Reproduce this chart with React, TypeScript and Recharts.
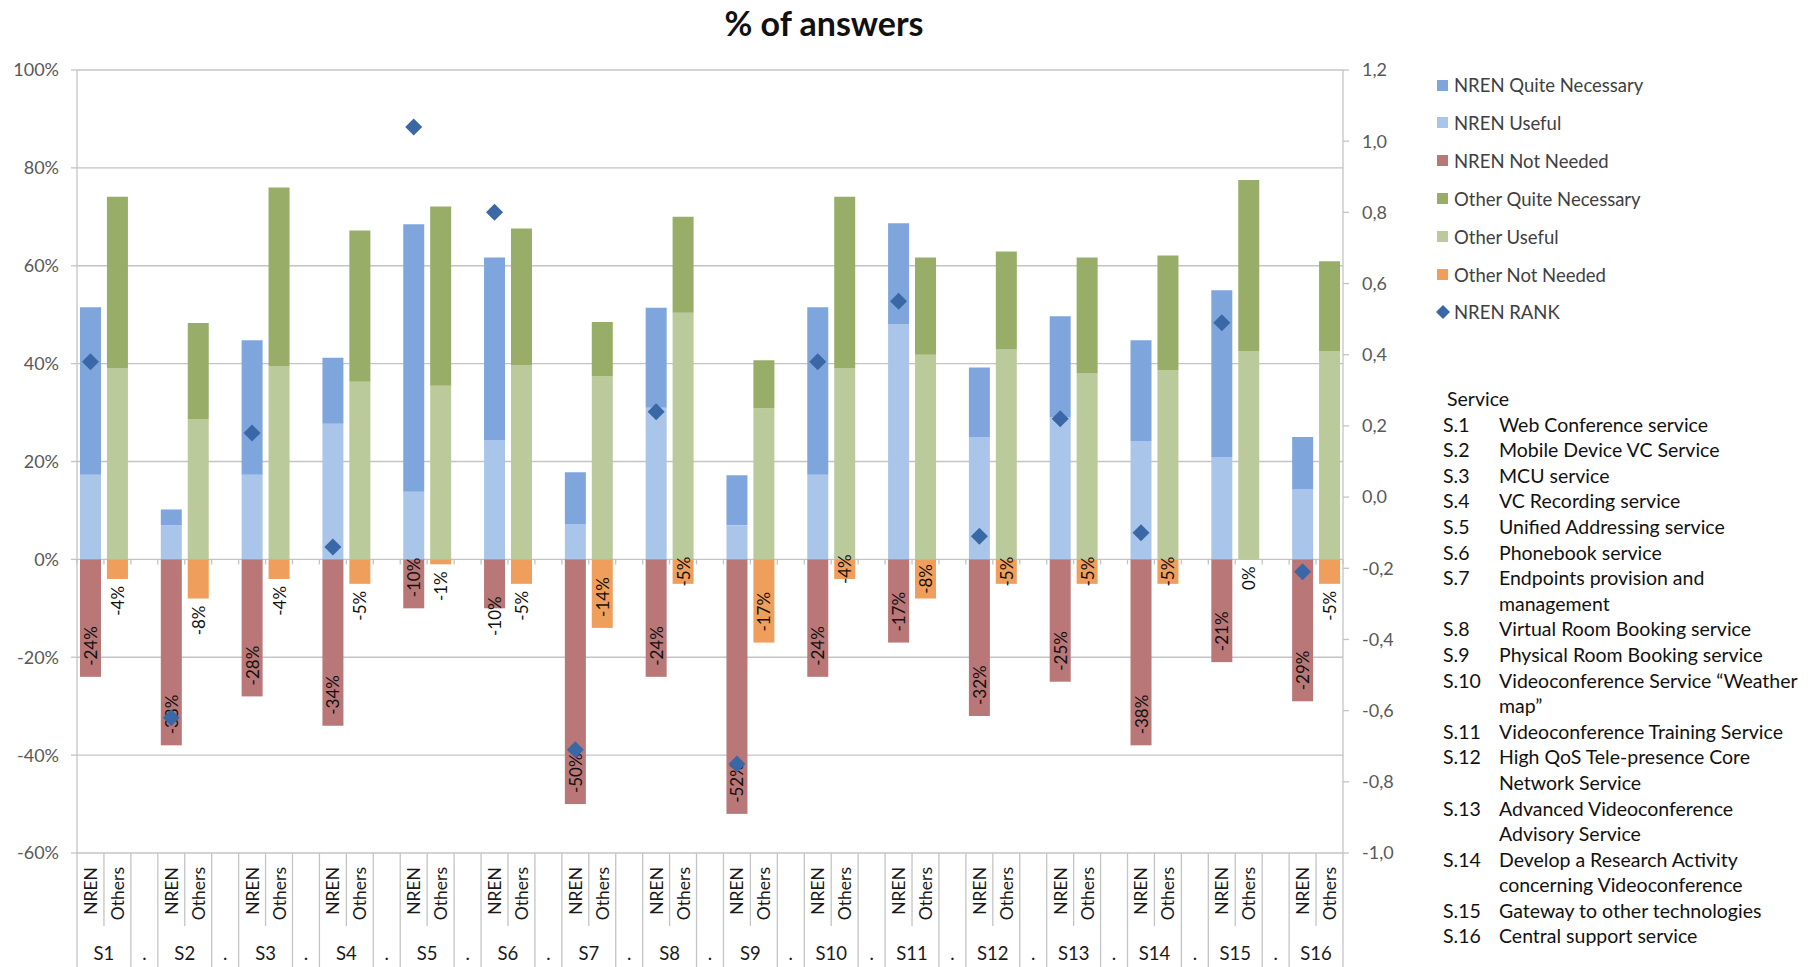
import { ComposedChart, Bar, Line, XAxis, YAxis, CartesianGrid } from 'recharts';

const services = ['S1', 'S2', 'S3', 'S4', 'S5', 'S6', 'S7', 'S8', 'S9', 'S10', 'S11', 'S12', 'S13', 'S14', 'S15', 'S16'];

// % of answers
const nrenUseful = [17.3, 7.0, 17.3, 27.7, 13.8, 24.3, 7.2, 31.0, 7.0, 17.3, 48.1, 25.0, 29.0, 24.2, 20.9, 14.3];
const nrenQuiteNecessary = [34.2, 3.2, 27.5, 13.5, 54.7, 37.4, 10.6, 20.4, 10.2, 34.2, 20.6, 14.2, 20.7, 20.6, 34.1, 10.7];
const nrenNotNeeded = [-24, -38, -28, -34, -10, -10, -50, -24, -52, -24, -17, -32, -25, -38, -21, -29];
const otherUseful = [39.1, 28.7, 39.5, 36.3, 35.5, 39.7, 37.4, 50.4, 30.9, 39.1, 41.8, 42.9, 38.0, 38.7, 42.6, 42.6];
const otherQuiteNecessary = [35.0, 19.6, 36.5, 30.9, 36.6, 27.9, 11.1, 19.6, 9.8, 35.0, 19.9, 20.0, 23.7, 23.4, 34.9, 18.3];
const otherNotNeeded = [-4, -8, -4, -5, -1, -5, -14, -5, -17, -4, -8, -5, -5, -5, 0, -5];
const nrenRank = [0.38, -0.62, 0.18, -0.14, 1.04, 0.8, -0.71, 0.24, -0.75, 0.38, 0.55, -0.11, 0.22, -0.1, 0.49, -0.21];

const leftTicks = [-60, -40, -20, 0, 20, 40, 60, 80, 100];
const rightTicks = [-1, -0.8, -0.6, -0.4, -0.2, 0, 0.2, 0.4, 0.6, 0.8, 1, 1.2];

const serviceLines: [string, string][] = [
  ['S.1', 'Web Conference service'],
  ['S.2', 'Mobile Device VC Service'],
  ['S.3', 'MCU service'],
  ['S.4', 'VC Recording service'],
  ['S.5', 'Unified Addressing service'],
  ['S.6', 'Phonebook service'],
  ['S.7', 'Endpoints provision and'],
  ['', 'management'],
  ['S.8', 'Virtual Room Booking service'],
  ['S.9', 'Physical Room Booking service'],
  ['S.10', 'Videoconference Service \u201cWeather'],
  ['', 'map\u201d'],
  ['S.11', 'Videoconference Training Service'],
  ['S.12', 'High QoS Tele-presence Core'],
  ['', 'Network Service'],
  ['S.13', 'Advanced Videoconference'],
  ['', 'Advisory Service'],
  ['S.14', 'Develop a Research Activity'],
  ['', 'concerning Videoconference'],
  ['S.15', 'Gateway to other technologies'],
  ['S.16', 'Central support service'],
];

const COLORS = {
  nrenQN: '#7EA6DD',
  nrenU: '#A9C6EA',
  nrenNN: '#BA7777',
  otherQN: '#98AD67',
  otherU: '#BBCA9B',
  otherNN: '#EF9F5B',
  rank: '#3A68A6',
};

const legendItems = [
  { label: 'NREN Quite Necessary', color: COLORS.nrenQN },
  { label: 'NREN Useful', color: COLORS.nrenU },
  { label: 'NREN Not Needed', color: COLORS.nrenNN },
  { label: 'Other Quite Necessary', color: COLORS.otherQN },
  { label: 'Other Useful', color: COLORS.otherU },
  { label: 'Other Not Needed', color: COLORS.otherNN },
  { label: 'NREN RANK', color: COLORS.rank, diamond: true },
];

// labels Excel had moved out below the bar (or forced to the end)
const labelPlacement: Record<string, string> = {
  'S1-Others': 'outside',
  'S2-Others': 'outside',
  'S3-Others': 'outside',
  'S4-Others': 'outside',
  'S5-Others': 'outside',
  'S6-NREN': 'straddle',
  'S6-Others': 'outside',
  'S15-Others': 'outside',
  'S16-Others': 'outside',
  'S5-NREN': 'insideEnd',
};

type Row = {
  key: string;
  sub: string;
  group: string;
  kind: 'nren' | 'other' | 'gap';
  nrenU?: number;
  nrenQN?: number;
  nrenNN?: number;
  otherU?: number;
  otherQN?: number;
  otherNN?: number;
  rank?: number;
};

const rows: Row[] = services.flatMap((s, i) => {
  const out: Row[] = [
    { key: `${s}-NREN`, sub: 'NREN', group: s, kind: 'nren', nrenU: nrenUseful[i], nrenQN: nrenQuiteNecessary[i], nrenNN: nrenNotNeeded[i], rank: nrenRank[i] },
    { key: `${s}-Others`, sub: 'Others', group: s, kind: 'other', otherU: otherUseful[i], otherQN: otherQuiteNecessary[i], otherNN: otherNotNeeded[i] },
  ];
  if (i < services.length - 1) out.push({ key: `gap${i}`, sub: '', group: '.', kind: 'gap' });
  return out;
});
const rowByKey = new Map(rows.map((r) => [r.key, r]));

const FONT = 'Lato, "Open Sans", sans-serif';
const GRID = '#C4C4C4';
const CHART_W = 1420;
const CHART_H = 967;
const TOP = 70;
const AXIS_W = 77;
const X_AXIS_H = 114;
const PLOT_BOTTOM = CHART_H - X_AXIS_H;
const PLOT_H = PLOT_BOTTOM - TOP;
const SLOT = (CHART_W - 2 * AXIS_W) / rows.length;
const ZERO_Y = TOP + (100 / 160) * PLOT_H;
const LABEL_FONT = 17;

const CategoryTick = (props: any) => {
  const { x, payload } = props;
  const row = rowByKey.get(payload.value);
  if (!row) return null;
  const idx = rows.indexOf(row);
  const left = x - SLOT / 2;
  const right = x + SLOT / 2;
  const isLast = idx === rows.length - 1;
  const subTop = PLOT_BOTTOM + 14;
  return (
    <g>
      <line x1={left} x2={left} y1={ZERO_Y} y2={ZERO_Y + 5} stroke={GRID} strokeWidth={1.3} />
      {isLast && <line x1={right} x2={right} y1={ZERO_Y} y2={ZERO_Y + 5} stroke={GRID} strokeWidth={1.3} />}
      <line x1={left} x2={left} y1={PLOT_BOTTOM} y2={row.kind === 'other' ? PLOT_BOTTOM + 73 : CHART_H} stroke={GRID} strokeWidth={1.3} />
      {isLast && <line x1={right} x2={right} y1={PLOT_BOTTOM} y2={CHART_H} stroke={GRID} strokeWidth={1.3} />}
      {row.sub && (
        <text
          x={x}
          y={subTop}
          transform={`rotate(-90 ${x} ${subTop})`}
          textAnchor="end"
          dominantBaseline="central"
          fontSize={17.5}
          fontFamily={FONT}
          fill="#1a1a1a"
        >
          {row.sub}
        </text>
      )}
      {row.kind !== 'other' && (
        <text
          x={row.kind === 'nren' ? right : x}
          y={CHART_H - 14}
          textAnchor="middle"
          dominantBaseline="central"
          fontSize={18.5}
          fontFamily={FONT}
          fill="#1a1a1a"
        >
          {row.group}
        </text>
      )}
    </g>
  );
};

const notNeededShape = (field: 'nrenNN' | 'otherNN', fill: string) => (props: any) => {
  const { x, y, width, height, payload } = props;
  const v = payload ? payload[field] : undefined;
  if (v == null) return <g />;
  // a zero value sits on the positive side of the stack, so pin it to the zero line
  const top = v === 0 ? ZERO_Y : Math.min(y, y + height);
  const bottom = v === 0 ? ZERO_Y : Math.max(y, y + height);
  const len = bottom - top;
  const label = `${v}%`;
  const textLen = label.length * LABEL_FONT * 0.58;
  const cx = x + width / 2;
  const placement = labelPlacement[payload.key] ?? (textLen + 10 > len ? 'center' : 'insideEnd');
  let ay = (top + bottom) / 2;
  let anchor: 'start' | 'middle' | 'end' = 'middle';
  if (placement === 'outside') {
    ay = bottom + 7;
    anchor = 'end';
  } else if (placement === 'straddle') {
    ay = bottom - 12;
    anchor = 'end';
  } else if (placement === 'insideEnd') {
    ay = bottom - 11;
    anchor = 'start';
  }
  return (
    <g>
      <rect x={x} y={top} width={width} height={len} fill={fill} />
      <text
        x={cx}
        y={ay}
        transform={`rotate(-90 ${cx} ${ay})`}
        textAnchor={anchor}
        dominantBaseline="central"
        fontSize={LABEL_FONT}
        fontFamily={FONT}
        fill="#111"
      >
        {label}
      </text>
    </g>
  );
};

const Diamond = (props: any) => {
  const { cx, cy, payload, index } = props;
  if (cx == null || cy == null || payload?.rank == null) return <g key={`d${index}`} />;
  const r = 8.5;
  return <path key={`d${index}`} d={`M${cx},${cy - r}L${cx + r},${cy}L${cx},${cy + r}L${cx - r},${cy}Z`} fill={COLORS.rank} />;
};

export default function App() {
  return (
    <div style={{ position: 'absolute', left: 0, top: 0, width: 1818, height: 967, background: '#fff', fontFamily: FONT, overflow: 'hidden' }}>
      <div
        style={{
          position: 'absolute',
          left: 824,
          top: 22,
          transform: 'translate(-50%, -50%)',
          fontSize: 34,
          fontWeight: 700,
          whiteSpace: 'nowrap',
          color: '#111',
        }}
      >
        % of answers
      </div>
      <div style={{ position: 'absolute', left: 0, top: 0 }}>
        <ComposedChart
          width={CHART_W}
          height={CHART_H}
          data={rows}
          stackOffset="sign"
          barSize={21}
          margin={{ top: TOP, right: 0, bottom: 0, left: 0 }}
        >
          <CartesianGrid yAxisId="left" vertical={false} stroke={GRID} strokeWidth={1.3} />
          <XAxis
            dataKey="key"
            interval={0}
            height={X_AXIS_H}
            axisLine={false}
            tickLine={false}
            tickSize={0}
            tickMargin={0}
            tick={<CategoryTick />}
          />
          <YAxis
            yAxisId="left"
            domain={[-60, 100]}
            ticks={leftTicks}
            tickFormatter={(v: number) => `${v}%`}
            width={AXIS_W}
            axisLine={{ stroke: GRID, strokeWidth: 1.3 }}
            tickLine={{ stroke: GRID, strokeWidth: 1.3 }}
            tickSize={6}
            tickMargin={12}
            tick={{ fill: '#595959', fontSize: 18, fontFamily: FONT }}
          />
          <YAxis
            yAxisId="right"
            orientation="right"
            domain={[-1, 1.2]}
            ticks={rightTicks}
            tickFormatter={(v: number) => v.toFixed(1).replace('.', ',')}
            width={AXIS_W}
            axisLine={{ stroke: GRID, strokeWidth: 1.3 }}
            tickLine={{ stroke: GRID, strokeWidth: 1.3 }}
            tickSize={6}
            tickMargin={13}
            tick={{ fill: '#595959', fontSize: 18, fontFamily: FONT, textAnchor: 'start' }}
          />
          <Bar yAxisId="left" dataKey="nrenU" stackId="a" fill={COLORS.nrenU} isAnimationActive={false} />
          <Bar yAxisId="left" dataKey="nrenQN" stackId="a" fill={COLORS.nrenQN} isAnimationActive={false} />
          <Bar yAxisId="left" dataKey="nrenNN" stackId="a" fill={COLORS.nrenNN} shape={notNeededShape('nrenNN', COLORS.nrenNN)} isAnimationActive={false} />
          <Bar yAxisId="left" dataKey="otherU" stackId="a" fill={COLORS.otherU} isAnimationActive={false} />
          <Bar yAxisId="left" dataKey="otherQN" stackId="a" fill={COLORS.otherQN} isAnimationActive={false} />
          <Bar yAxisId="left" dataKey="otherNN" stackId="a" fill={COLORS.otherNN} shape={notNeededShape('otherNN', COLORS.otherNN)} isAnimationActive={false} />
          <Line
            yAxisId="right"
            dataKey="rank"
            stroke="none"
            dot={Diamond}
            activeDot={false}
            legendType="none"
            isAnimationActive={false}
          />
        </ComposedChart>
      </div>

      {legendItems.map((item, i) => {
        const cy = 85 + i * 37.9;
        return (
          <div key={item.label} style={{ position: 'absolute', left: 1436, top: cy - 12, height: 24, display: 'flex', alignItems: 'center' }}>
            {item.diamond ? (
              <svg width={14} height={14} style={{ marginRight: 4 }}>
                <path d="M7,0L14,7L7,14L0,7Z" fill={item.color} />
              </svg>
            ) : (
              <div style={{ width: 11, height: 11, background: item.color, marginLeft: 1, marginRight: 6 }} />
            )}
            <span style={{ fontSize: 18.5, color: '#404040', whiteSpace: 'nowrap' }}>{item.label}</span>
          </div>
        );
      })}

      <div style={{ position: 'absolute', left: 1443, top: 398.8 - 12.8, fontSize: 19.5, lineHeight: '25.6px', color: '#111', whiteSpace: 'nowrap' }}>
        <div style={{ paddingLeft: 4 }}>Service</div>
        {serviceLines.map(([code, desc], i) => (
          <div key={i} style={{ display: 'flex' }}>
            <span style={{ width: 56, display: 'inline-block' }}>{code}</span>
            <span>{desc}</span>
          </div>
        ))}
      </div>
    </div>
  );
}
